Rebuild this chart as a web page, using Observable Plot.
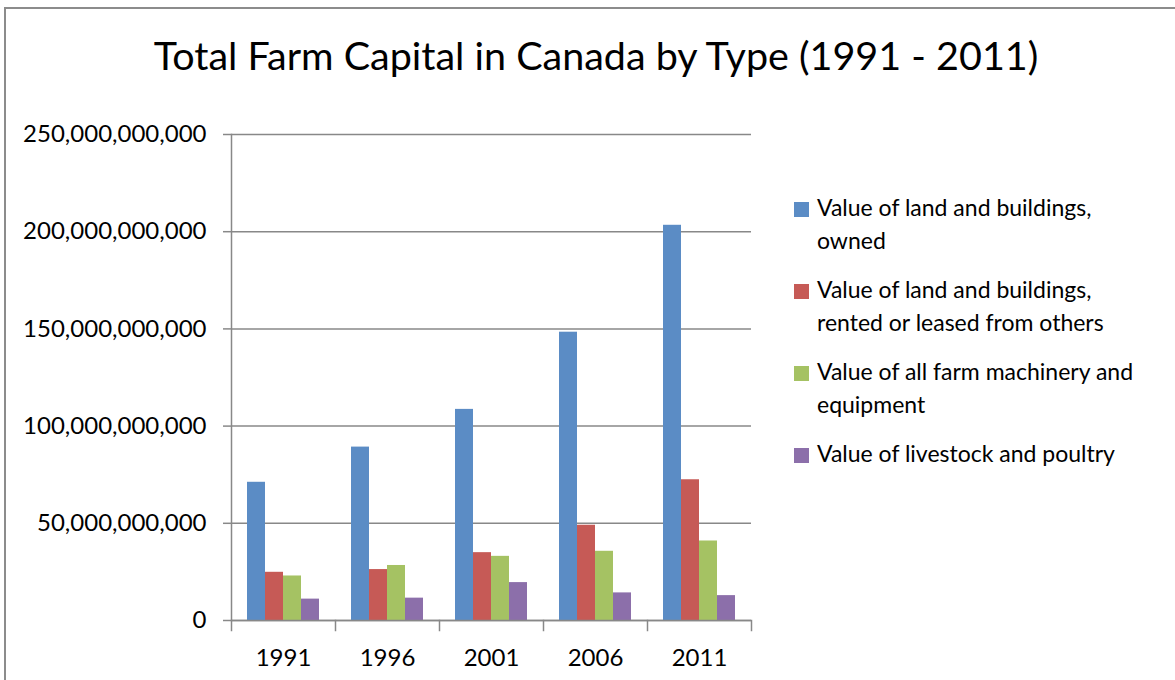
<!DOCTYPE html>
<html>
<head>
<meta charset="utf-8">
<script src="https://cdn.jsdelivr.net/npm/d3@7"></script>
<script src="https://cdn.jsdelivr.net/npm/@observablehq/plot@0.6"></script>
<style>
  html, body { margin: 0; padding: 0; background: #fff; }
  #wrap { position: relative; width: 1175px; height: 680px; overflow: hidden; background: #fff; font-family: Lato, sans-serif; color: #000; }
  #border { position: absolute; left: 4px; top: 7px; width: 1200px; height: 720px; border: 2px solid #8c8c8c; box-sizing: border-box; }
  #title { position: absolute; left: 0; top: 35px; width: 1192px; text-align: center; font-size: 39.5px; line-height: 39.5px; white-space: nowrap; }
  #chart { position: absolute; left: 0; top: 100px; }
  #legend { position: absolute; left: 794px; top: 191px; font-size: 23px; line-height: 33px; }
  .item { position: relative; padding-left: 23px; width: 335px; margin-bottom: 16px; }
  .sw { position: absolute; left: 0; top: 10.5px; width: 15px; height: 15px; }
</style>
</head>
<body>
<div id="wrap">
  <div id="border"></div>
  <div id="title">Total Farm Capital in Canada by Type (1991 - 2011)</div>
  <div id="chart"></div>
  <div id="legend"></div>
</div>
<script>
const years = ["1991", "1996", "2001", "2006", "2011"];
const series = [
  "Value of land and buildings, owned",
  "Value of land and buildings, rented or leased from others",
  "Value of all farm machinery and equipment",
  "Value of livestock and poultry"
];
const colors = ["#5B8CC5", "#C65A56", "#A5C263", "#8C6FAA"];
const landOwned  = [71.1e9, 89.2e9, 108.6e9, 148.3e9, 203.3e9];
const landRented = [24.8e9, 26.2e9, 34.9e9, 49.0e9, 72.4e9];
const machinery  = [22.9e9, 28.3e9, 33.0e9, 35.6e9, 40.9e9];
const livestock  = [11.0e9, 11.5e9, 19.5e9, 14.2e9, 12.8e9];
const yTicks = [0, 50e9, 100e9, 150e9, 200e9, 250e9];

const seriesValues = [landOwned, landRented, machinery, livestock];
const table = years.flatMap((year, i) =>
  seriesValues.map((arr, j) => ({year, series: series[j], value: arr[i]}))
);

const H = 580, MT = 34, MB = 60;
const innerH = H - MT - MB;
const axisColor = "#888888";

const chart = Plot.plot({
  width: 1175,
  height: H,
  marginLeft: 230,
  marginRight: 424,
  marginTop: MT,
  marginBottom: MB,
  style: {fontFamily: "Lato, sans-serif", fontSize: "24px", color: "#000", background: "transparent", overflow: "visible"},
  fx: {domain: years, padding: 0, label: null, axis: null},
  x: {domain: series, paddingInner: 0, paddingOuter: 0.74, axis: null},
  y: {domain: [0, 250e9], label: null, axis: null},
  color: {domain: series, range: colors},
  marks: [
    Plot.gridY(yTicks, {stroke: axisColor, strokeOpacity: 1, strokeWidth: 1.5}),
    Plot.axisY(yTicks, {tickSize: 8, tickPadding: 17, tickFormat: d3.format(","), stroke: axisColor, strokeWidth: 1.5, label: null, fill: "#000"}),
    Plot.axisFx({anchor: "bottom", tickSize: 0, tickPadding: 28, label: null, fill: "#000"}),
    Plot.barY(table, {fx: "year", x: "series", y: "value", fill: "series"}),
    Plot.ruleY([0], {stroke: axisColor, strokeWidth: 1.5}),
    Plot.frame({anchor: "left", facetAnchor: "left", stroke: axisColor, strokeWidth: 1.5}),
    Plot.frame({anchor: "left", insetTop: innerH, insetBottom: -10, stroke: axisColor, strokeWidth: 1.5}),
    Plot.frame({anchor: "right", facetAnchor: "right", insetTop: innerH, insetBottom: -10, stroke: axisColor, strokeWidth: 1.5})
  ]
});
document.getElementById("chart").appendChild(chart);

const legend = document.getElementById("legend");
series.forEach((name, i) => {
  const item = document.createElement("div");
  item.className = "item";
  const sw = document.createElement("span");
  sw.className = "sw";
  sw.style.background = colors[i];
  item.appendChild(sw);
  item.appendChild(document.createTextNode(name));
  legend.appendChild(item);
});
</script>
</body>
</html>
